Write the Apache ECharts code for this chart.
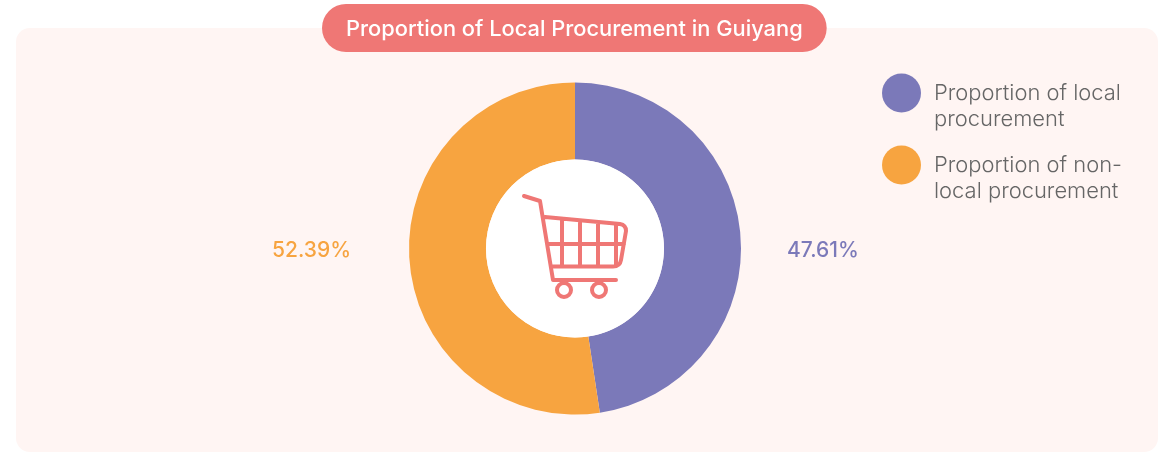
<!DOCTYPE html>
<html><head><meta charset="utf-8">
<style>html,body{margin:0;padding:0;background:#fff}#c{width:1168px;height:452px}</style>
<script src="https://cdn.jsdelivr.net/npm/echarts@6/dist/echarts.min.js"></script>
</head><body><div id="c"></div>
<script>
const titleText = 'Proportion of Local Procurement in Guiyang';
const categories = ['Proportion of local\nprocurement', 'Proportion of non-\nlocal procurement'];
const values = [47.61, 52.39];
const colors = ['#7B79B9', '#F7A440'];
const PINK = '#EF7775';
const CX = 575, CY = 248.5;
const chart = echarts.init(document.getElementById('c'), null, {renderer:'canvas'});
const cart = 'M524 196 L540 201 L553 280 L616 280 M545 217 L620 224 Q626 225 626 231 L621 260 Q620 266.5 613 266.5 L551 266.5 M548 244 L624 244 M562 219 L562 265 M580 221 L580 265 M598 223 L598 265 M616 224 L616 265';
echarts.graphic.registerShape('cartIcon', echarts.graphic.extendPath(cart, {}));
chart.setOption({
  animation:false,
  title:{
    text:titleText, left:322, top:4, padding:[12,24,10,24],
    backgroundColor:PINK, borderRadius:24, z:10,
    textStyle:{color:'#fff',fontFamily:'Inter',fontSize:21.85,fontWeight:500,lineHeight:26}
  },
  legend:{
    left:882, top:53, padding:0, orient:'vertical', itemWidth:39, itemHeight:39, itemGap:-8, icon:'circle',
    selectedMode:false, align:'left',
    formatter:n=>'\n'+n,
    textStyle:{color:'#666',fontFamily:'Inter',fontSize:21.95,fontWeight:300,lineHeight:26,padding:[2,0,0,8]}
  },
  graphic:[
    {type:'rect',z:0,shape:{x:16,y:28,width:1142,height:424,r:14},style:{fill:'#FFF5F3'}},
    {type:'circle',z:5,shape:{cx:CX,cy:CY,r:89},style:{fill:'#fff'}},
    {type:'cartIcon',z:6,style:{fill:'none',stroke:PINK,lineWidth:4,lineCap:'round',lineJoin:'round'}},
    {type:'circle',z:6,shape:{cx:564,cy:290,r:7},style:{fill:'#fff',stroke:PINK,lineWidth:4}},
    {type:'circle',z:6,shape:{cx:599,cy:290,r:7},style:{fill:'#fff',stroke:PINK,lineWidth:4}}
  ],
  series:[{
    type:'pie', center:[CX,CY], radius:[89,166], startAngle:90, clockwise:true,
    silent:true, z:2,
    label:{show:true,position:'outside',fontFamily:'Inter',fontSize:21,fontWeight:500,
      formatter:p=>p.value.toFixed(2)+'%',color:'inherit'},
    labelLine:{show:false},
    labelLayout:p=>({y:251, x:p.dataIndex===0?787:272, align:'left', verticalAlign:'middle', hideOverlap:false}),
    data:categories.map((n,i)=>({name:n,value:values[i],itemStyle:{color:colors[i]},label:{color:colors[i]}}))
  }]
});
</script></body></html>
